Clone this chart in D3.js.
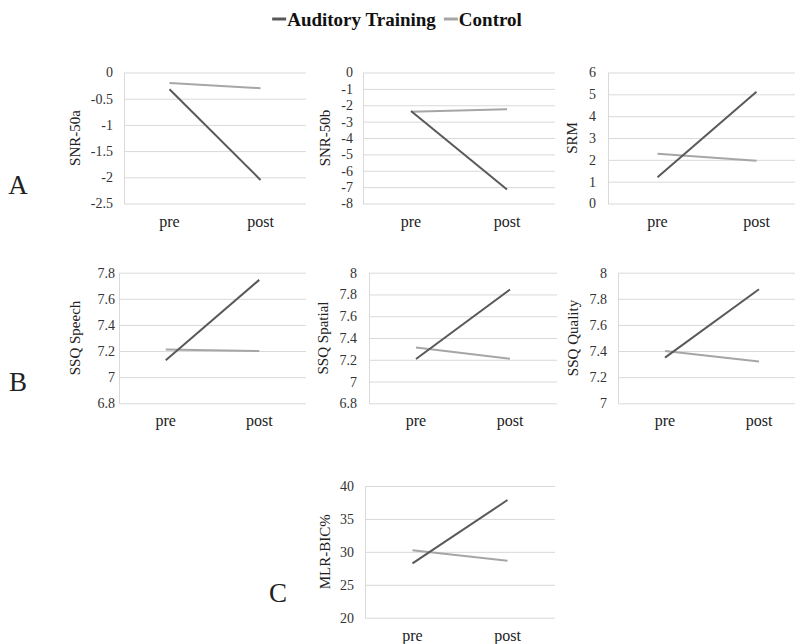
<!DOCTYPE html>
<meta charset="utf-8">
<style>

body {
  margin: 0;
  background: #fff;
}

svg text {
  font-family: 'Liberation Serif', 'Times New Roman', serif;
}

.grid line, .grid path
{
    stroke: #d9d9d9;
    stroke-width: 1;
}

.cat
{
    font-size: 16px;
    fill: #222;
}

.ytitle
{
    font-size: 15px;
    fill: #222;
}

.group
{
    font-size: 27px;
    fill: #222;
}

.legend
{
    font-size: 19px;
    font-weight: bold;
    fill: #111;
}

</style>
<body>
<div id='chart'></div>
<script src="https://d3js.org/d3.v7.min.js"></script>
<script>
var categories = ['pre', 'post'];
var seriesNames = ['Auditory Training', 'Control'];
var measures = ['SNR-50a', 'SNR-50b', 'SRM', 'SSQ Speech', 'SSQ Spatial', 'SSQ Quality', 'MLR-BIC%'];

var training = [[-0.32, -2.05], [-2.35, -7.15], [1.2, 5.12], [7.13, 7.745], [7.207, 7.845], [7.35, 7.873], [28.25, 37.87]];
var control  = [[-0.2, -0.3], [-2.4, -2.25], [2.28, 1.96], [7.212, 7.2], [7.313, 7.21], [7.4, 7.32], [30.24, 28.66]];

var yDomains = [[-2.5, 0], [-8, 0], [0, 6], [6.8, 7.8], [6.8, 8], [7, 8], [20, 40]];
var yTickCounts = [5, 8, 6, 5, 6, 5, 4];
var groupLabels = ['A', 'B', 'C'];

// layout of each panel on the page
var boxes = [
  {left: 124, right: 306, top: 72.5, bottom: 203.5, titleX: 75, tickX: 113},
  {left: 363, right: 555, top: 72.5, bottom: 203.5, titleX: 325, tickX: 353},
  {left: 608, right: 806, top: 72.5, bottom: 203.5, titleX: 572, tickX: 596},
  {left: 119, right: 306, top: 272.7, bottom: 403.3, titleX: 75, tickX: 115},
  {left: 369, right: 557, top: 272.7, bottom: 403.3, titleX: 323, tickX: 357},
  {left: 618, right: 806, top: 272.7, bottom: 403.3, titleX: 573, tickX: 607},
  {left: 365, right: 555, top: 486, bottom: 617.7, titleX: 325, tickX: 354}
];
var groupPos = [[18, 194], [18, 391], [278, 602]];
var colors = ['#595959', '#a6a6a6'];

var svg = d3.select('#chart')
            .append('svg')
            .attr('width', 795)
            .attr('height', 644)

var fmt = function(v){ return String(+v.toFixed(1)) }

for (var i = 0; i < measures.length; i++)
{
  var b = boxes[i];
  var x = d3.scalePoint().domain(categories).range([b.left, b.right]).padding(0.5);
  var y = d3.scaleLinear().domain(yDomains[i]).range([b.bottom, b.top]);
  var ticks = y.ticks(yTickCounts[i]);

  var g = svg.append('g');

  // gridlines + left axis line
  g.append('g')
   .attr('class', 'grid')
   .attr('transform', 'translate(' + b.left + ',0)')
   .call(d3.axisLeft(y).tickValues(ticks).tickSize(-(b.right - b.left)).tickSizeOuter(0).tickFormat(''))

  // tick labels
  var ax = g.append('g')
   .attr('transform', 'translate(' + b.left + ',0)')
   .call(d3.axisLeft(y).tickValues(ticks).tickSize(0).tickPadding(b.left - b.tickX).tickFormat(fmt))
  ax.select('.domain').remove()
  ax.selectAll('text')
    .style('font-family', "'Liberation Serif', 'Times New Roman', serif")
    .style('font-size', '14px')
    .style('fill', '#333')

  // category labels
  g.selectAll('.cat')
   .data(categories)
   .enter().append('text')
   .attr('class', 'cat')
   .attr('x', function(d){ return x(d) })
   .attr('y', b.bottom + 23)
   .attr('text-anchor', 'middle')
   .text(function(d){ return d })

  // y title
  g.append('text')
   .attr('class', 'ytitle')
   .attr('transform', 'translate(' + b.titleX + ',' + ((b.top + b.bottom) / 2) + ') rotate(-90)')
   .attr('text-anchor', 'middle')
   .attr('dy', '0.35em')
   .text(measures[i])

  var line = d3.line()
    .x(function(d, k){ return x(categories[k]) })
    .y(function(d){ return y(d) });

  // control first, training on top
  g.append('path')
   .datum(control[i])
   .attr('d', line)
   .attr('fill', 'none')
   .attr('stroke', colors[1])
   .attr('stroke-width', 2)

  g.append('path')
   .datum(training[i])
   .attr('d', line)
   .attr('fill', 'none')
   .attr('stroke', colors[0])
   .attr('stroke-width', 2)
}

for (var j = 0; j < groupLabels.length; j++)
{
  svg.append('text')
     .attr('class', 'group')
     .attr('x', groupPos[j][0])
     .attr('y', groupPos[j][1])
     .attr('text-anchor', 'middle')
     .text(groupLabels[j])
}

// legend
var leg = svg.append('g');
var cursor = 0;
for (var s = 0; s < seriesNames.length; s++)
{
  leg.append('line')
     .attr('x1', cursor).attr('x2', cursor + 14)
     .attr('y1', 19).attr('y2', 19)
     .attr('stroke', colors[s])
     .attr('stroke-width', 3)
  var t = leg.append('text')
     .attr('class', 'legend')
     .attr('x', cursor + 15)
     .attr('y', 26)
     .text(seriesNames[s])
  cursor += 15 + t.node().getComputedTextLength() + 8;
}
var legW = cursor - 8;
leg.attr('transform', 'translate(' + (397 - legW / 2) + ',0)')

</script>
</body>
